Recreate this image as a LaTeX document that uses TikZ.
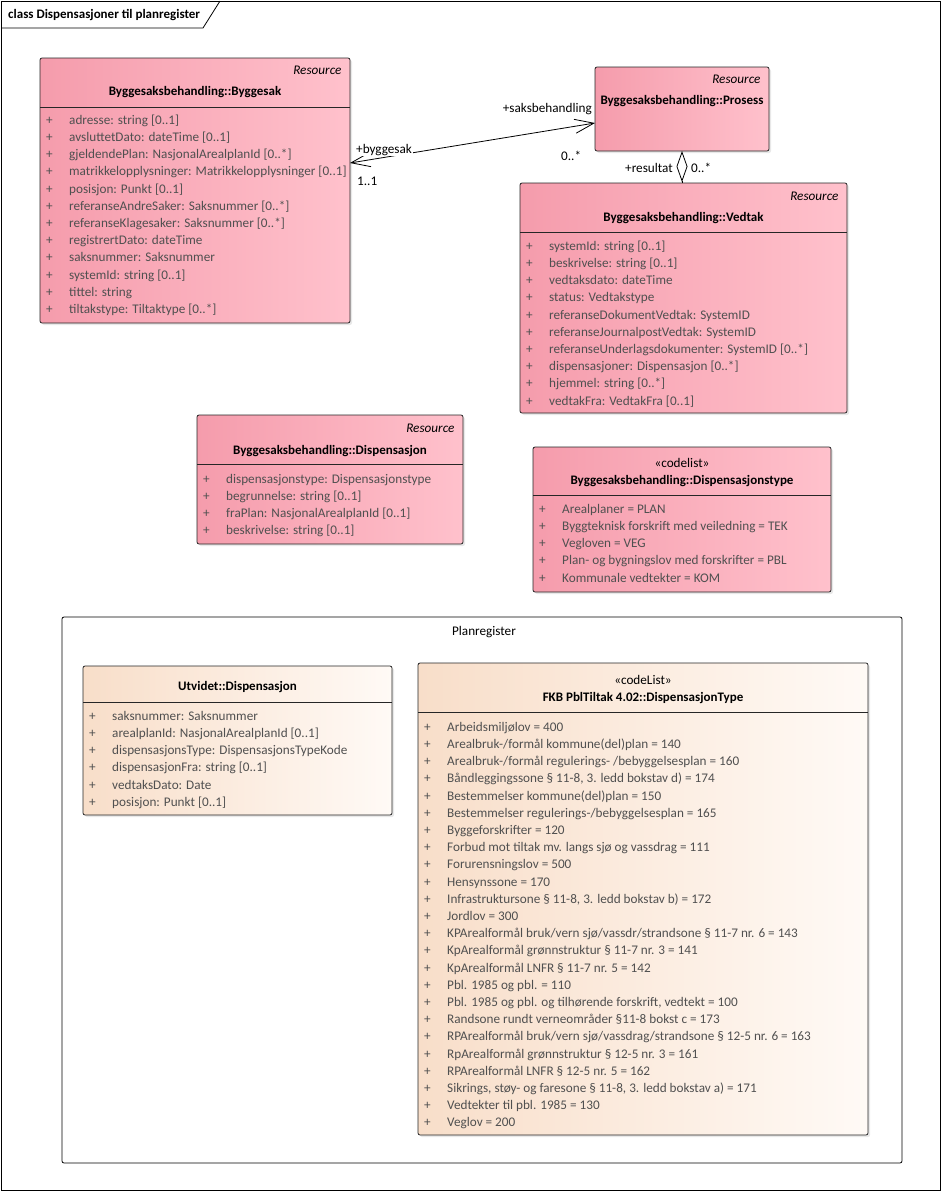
\documentclass[tikz,border=0pt]{standalone}
\usepackage{fontspec}
\setmainfont{Carlito}
\usetikzlibrary{arrows.meta,shadows}
\definecolor{rosaA}{RGB}{245,156,172}
\definecolor{rosaB}{RGB}{255,193,204}
\definecolor{beigeA}{RGB}{248,222,201}
\definecolor{beigeB}{RGB}{255,250,246}
\definecolor{attrgray}{RGB}{80,80,80}
\tikzset{
  klasse/.style={draw=black!85, line width=0.8pt, rounded corners=2pt, anchor=north west,
    inner sep=0pt, outer sep=0pt, left color=rosaA, right color=rosaB,
    drop shadow={shadow xshift=2pt, shadow yshift=-2pt, fill=black!18}},
  klasseb/.style={klasse, left color=beigeA, right color=beigeB},
  attrs/.style={anchor=north west, inner sep=0pt, text=attrgray, font=\fontsize{13.2}{17.2}\selectfont},
  navn/.style={anchor=base, font=\bfseries\fontsize{13}{15}\selectfont},
  stereo/.style={anchor=base, font=\fontsize{13.2}{15}\selectfont},
  res/.style={anchor=base east, font=\itshape\fontsize{13.2}{15}\selectfont},
  rolle/.style={font=\fontsize{13.2}{15}\selectfont, inner sep=1pt, fill=white},
  skille/.style={line width=0.8pt, draw=black!85},
}
\begin{document}
\begin{tikzpicture}[x=1pt,y=-1pt]
\useasboundingbox (0,0) rectangle (941,1192);
\draw[line width=0.8pt] (1,1) rectangle (940,1190);
\draw[line width=0.8pt] (1,28) -- (203,28) -- (220,1);
\node[anchor=base west, inner sep=0pt, font=\bfseries\fontsize{13}{15}\selectfont] (ramme) at (8,18) {class Dispensasjoner til planregister};

\node[klasse, minimum width=310pt, minimum height=265pt] (byggesak) at (40,58) {};
\node[res] (byggesakR) at (345,74) {Resource};
\node[navn] (byggesakN) at (195,95) {Byggesaksbehandling::Byggesak};
\draw[skille] (byggesak.west |- 0,107) -- (byggesak.east |- 0,107);
\node[attrs] (byggesakA) at (46,112) {\begin{tabular}{@{}p{23pt}@{}l@{}}
+ & adresse: string [0..1]\\
+ & avsluttetDato: dateTime [0..1]\\
+ & gjeldendePlan: NasjonalArealplanId [0..*]\\
+ & matrikkelopplysninger: Matrikkelopplysninger [0..1]\\
+ & posisjon: Punkt [0..1]\\
+ & referanseAndreSaker: Saksnummer [0..*]\\
+ & referanseKlagesaker: Saksnummer [0..*]\\
+ & registrertDato: dateTime\\
+ & saksnummer: Saksnummer\\
+ & systemId: string [0..1]\\
+ & tittel: string\\
+ & tiltakstype: Tiltaktype [0..*]
\end{tabular}};

\node[klasse, minimum width=174pt, minimum height=84pt] (prosess) at (595,67) {};
\node[res] (prosessR) at (764,83) {Resource};
\node[navn] (prosessN) at (682,104) {Byggesaksbehandling::Prosess};

\node[klasse, minimum width=327pt, minimum height=230pt] (vedtak) at (520,183) {};
\node[res] (vedtakR) at (842,200) {Resource};
\node[navn] (vedtakN) at (683.5,221) {Byggesaksbehandling::Vedtak};
\draw[skille] (vedtak.west |- 0,232) -- (vedtak.east |- 0,232);
\node[attrs] (vedtakA) at (526,238) {\begin{tabular}{@{}p{23pt}@{}l@{}}
+ & systemId: string [0..1]\\
+ & beskrivelse: string [0..1]\\
+ & vedtaksdato: dateTime\\
+ & status: Vedtakstype\\
+ & referanseDokumentVedtak: SystemID\\
+ & referanseJournalpostVedtak: SystemID\\
+ & referanseUnderlagsdokumenter: SystemID [0..*]\\
+ & dispensasjoner: Dispensasjon [0..*]\\
+ & hjemmel: string [0..*]\\
+ & vedtakFra: VedtakFra [0..1]
\end{tabular}};

\node[klasse, minimum width=266pt, minimum height=129pt] (disp) at (197,415) {};
\node[res] (dispR) at (458,432) {Resource};
\node[navn] (dispN) at (330,454) {Byggesaksbehandling::Dispensasjon};
\draw[skille] (disp.west |- 0,464) -- (disp.east |- 0,464);
\node[attrs] (dispA) at (203,471) {\begin{tabular}{@{}p{23pt}@{}l@{}}
+ & dispensasjonstype: Dispensasjonstype\\
+ & begrunnelse: string [0..1]\\
+ & fraPlan: NasjonalArealplanId [0..1]\\
+ & beskrivelse: string [0..1]
\end{tabular}};

\node[klasse, minimum width=298pt, minimum height=145pt] (disptype) at (533,447) {};
\node[stereo] (disptypeS) at (682,467) {«codelist»};
\node[navn] (disptypeN) at (682,484) {Byggesaksbehandling::Dispensasjonstype};
\draw[skille] (disptype.west |- 0,495) -- (disptype.east |- 0,495);
\node[attrs] (disptypeA) at (539,501) {\begin{tabular}{@{}p{23pt}@{}l@{}}
+ & Arealplaner = PLAN\\
+ & Byggteknisk forskrift med veiledning = TEK\\
+ & Vegloven = VEG\\
+ & Plan- og bygningslov med forskrifter = PBL\\
+ & Kommunale vedtekter = KOM
\end{tabular}};

\draw[line width=0.8pt, rounded corners=2pt] (62,617) rectangle (902,1163);
\node[stereo] (planreg) at (484,635) {Planregister};

\node[klasseb, minimum width=309pt, minimum height=149pt] (utvidet) at (83,666) {};
\node[navn] (utvidetN) at (237.5,690) {Utvidet::Dispensasjon};
\draw[skille] (utvidet.west |- 0,702) -- (utvidet.east |- 0,702);
\node[attrs] (utvidetA) at (89,708) {\begin{tabular}{@{}p{23pt}@{}l@{}}
+ & saksnummer: Saksnummer\\
+ & arealplanId: NasjonalArealplanId [0..1]\\
+ & dispensasjonsType: DispensasjonsTypeKode\\
+ & dispensasjonFra: string [0..1]\\
+ & vedtaksDato: Date\\
+ & posisjon: Punkt [0..1]
\end{tabular}};

\node[klasseb, minimum width=450pt, minimum height=472pt] (fkb) at (418,663) {};
\node[stereo] (fkbS) at (643,684) {«codeList»};
\node[navn] (fkbN) at (643,701) {FKB PblTiltak 4.02::DispensasjonType};
\draw[skille] (fkb.west |- 0,712) -- (fkb.east |- 0,712);
\node[attrs] (fkbA) at (424,719) {\begin{tabular}{@{}p{23pt}@{}l@{}}
+ & Arbeidsmiljølov = 400\\
+ & Arealbruk-/formål kommune(del)plan = 140\\
+ & Arealbruk-/formål regulerings- /bebyggelsesplan = 160\\
+ & Båndleggingssone § 11-8, 3. ledd bokstav d) = 174\\
+ & Bestemmelser kommune(del)plan = 150\\
+ & Bestemmelser regulerings-/bebyggelsesplan = 165\\
+ & Byggeforskrifter = 120\\
+ & Forbud mot tiltak mv. langs sjø og vassdrag = 111\\
+ & Forurensningslov = 500\\
+ & Hensynssone = 170\\
+ & Infrastruktursone § 11-8, 3. ledd bokstav b) = 172\\
+ & Jordlov = 300\\
+ & KPArealformål bruk/vern sjø/vassdr/strandsone § 11-7 nr. 6 = 143\\
+ & KpArealformål grønnstruktur § 11-7 nr. 3 = 141\\
+ & KpArealformål LNFR § 11-7 nr. 5 = 142\\
+ & Pbl. 1985 og pbl. = 110\\
+ & Pbl. 1985 og pbl. og tilhørende forskrift, vedtekt = 100\\
+ & Randsone rundt verneområder §11-8 bokst c = 173\\
+ & RPArealformål bruk/vern sjø/vassdrag/strandsone § 12-5 nr. 6 = 163\\
+ & RpArealformål grønnstruktur § 12-5 nr. 3 = 161\\
+ & RPArealformål LNFR § 12-5 nr. 5 = 162\\
+ & Sikrings, støy- og faresone § 11-8, 3. ledd bokstav a) = 171\\
+ & Vedtekter til pbl. 1985 = 130\\
+ & Veglov = 200
\end{tabular}};

\draw[line width=0.8pt, {Straight Barb[length=19pt,width=14pt]}-{Straight Barb[length=19pt,width=14pt]}]
  (byggesak.east |- 0,163) -- (prosess.west |- 0,123);
\node[rolle, anchor=base west] (byggesakRolle) at (355,153) {+byggesak};
\node[rolle, anchor=base west] (byggesakMult) at (356,185) {1..1};
\node[rolle, anchor=base east] (prosessRolle) at (593,112) {+saksbehandling};
\node[rolle, anchor=base west] (prosessMult) at (560,160) {0..*};

\draw[line width=0.8pt, -{Diamond[open,length=31pt,width=11pt]}] (prosess.south |- vedtak.north) -- (prosess.south);
\node[rolle, anchor=base east] (vedtakRolle) at (674,172) {+resultat};
\node[rolle, anchor=base west] (vedtakMult) at (690,172) {0..*};
\end{tikzpicture}
\end{document}
